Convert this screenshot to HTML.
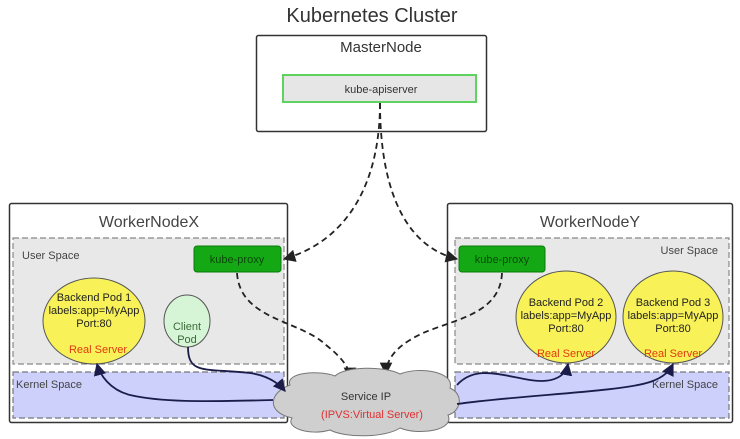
<!DOCTYPE html>
<html><head><meta charset="utf-8"><style>
html,body{margin:0;padding:0;background:#fff;width:740px;height:439px;overflow:hidden}
text{font-family:"Liberation Sans","DejaVu Sans",sans-serif}
</style></head><body>
<svg width="740" height="439" viewBox="0 0 740 439" xmlns="http://www.w3.org/2000/svg">
<defs>
<marker id="a" viewBox="0 0 10 10" refX="9" refY="5" markerWidth="7" markerHeight="7" orient="auto"><path d="M0,0 L10,5 L0,10 z" fill="#222"/></marker>
<marker id="b" viewBox="0 0 10 10" refX="9" refY="5" markerWidth="7" markerHeight="7" orient="auto"><path d="M0,0 L10,5 L0,10 z" fill="#1c1c4a"/></marker>
</defs>
<text x="372" y="22" font-size="20" text-anchor="middle" fill="#333">Kubernetes Cluster</text>
<rect x="256.5" y="35.5" width="230" height="96" fill="#fff" stroke="#333" stroke-width="1.5" rx="2"/>
<text x="381" y="52" font-size="15" text-anchor="middle" fill="#333">MasterNode</text>
<rect x="283" y="75" width="193" height="27" fill="#e6e6e6" stroke="#5fd35f" stroke-width="2"/>
<text x="381" y="93" font-size="11" text-anchor="middle" fill="#333">kube-apiserver</text>
<rect x="9.5" y="203.5" width="278" height="219" fill="#fff" stroke="#333" stroke-width="1.5" rx="2"/>
<text x="149" y="227" font-size="16" text-anchor="middle" fill="#444">WorkerNodeX</text>
<rect x="13" y="238" width="271" height="126" fill="#e8e8e8" stroke="#888" stroke-dasharray="6,3" stroke-width="1.2"/>
<text x="22" y="259" font-size="11" fill="#444">User Space</text>
<rect x="13" y="372" width="271" height="46" fill="#ccd0fb" stroke="#777" stroke-dasharray="6,3" stroke-width="1.2"/>
<text x="16" y="388" font-size="11" fill="#444">Kernel Space</text>
<rect x="194" y="246" width="87" height="26" rx="3" fill="#14a814" stroke="#0a7a0a"/>
<text x="237" y="263" font-size="11" text-anchor="middle" fill="#0a4a0a">kube-proxy</text>
<ellipse cx="94" cy="321" rx="51" ry="43" fill="#f8f258" stroke="#555"/>
<text x="94" y="301" font-size="11" text-anchor="middle" fill="#222">Backend Pod 1</text>
<text x="94" y="314" font-size="11" text-anchor="middle" fill="#222">labels:app=MyApp</text>
<text x="94" y="327" font-size="11" text-anchor="middle" fill="#222">Port:80</text>
<text x="98" y="353" font-size="11" text-anchor="middle" fill="#e03a10">Real Server</text>
<ellipse cx="187" cy="321" rx="23" ry="26" fill="#d6f5d6" stroke="#555"/>
<text x="187" y="330" font-size="11" text-anchor="middle" fill="#3a6a3a">Client</text>
<text x="187" y="343" font-size="11" text-anchor="middle" fill="#3a6a3a">Pod</text>
<rect x="447.5" y="203.5" width="285" height="219" fill="#fff" stroke="#333" stroke-width="1.5" rx="2"/>
<text x="590" y="227" font-size="16" text-anchor="middle" fill="#444">WorkerNodeY</text>
<rect x="455" y="238" width="274" height="126" fill="#e8e8e8" stroke="#888" stroke-dasharray="6,3" stroke-width="1.2"/>
<text x="718" y="254" font-size="11" text-anchor="end" fill="#444">User Space</text>
<rect x="455" y="372" width="274" height="46" fill="#ccd0fb" stroke="#777" stroke-dasharray="6,3" stroke-width="1.2"/>
<text x="718" y="388" font-size="11" text-anchor="end" fill="#444">Kernel Space</text>
<rect x="459" y="246" width="86" height="26" rx="3" fill="#14a814" stroke="#0a7a0a"/>
<text x="502" y="263" font-size="11" text-anchor="middle" fill="#0a4a0a">kube-proxy</text>
<ellipse cx="566" cy="317" rx="50" ry="46" fill="#f8f258" stroke="#555"/>
<text x="566" y="306" font-size="11" text-anchor="middle" fill="#222">Backend Pod 2</text>
<text x="566" y="319" font-size="11" text-anchor="middle" fill="#222">labels:app=MyApp</text>
<text x="566" y="332" font-size="11" text-anchor="middle" fill="#222">Port:80</text>
<text x="566" y="357" font-size="11" text-anchor="middle" fill="#e03a10">Real Server</text>
<ellipse cx="673" cy="317" rx="50" ry="46" fill="#f8f258" stroke="#555"/>
<text x="673" y="306" font-size="11" text-anchor="middle" fill="#222">Backend Pod 3</text>
<text x="673" y="319" font-size="11" text-anchor="middle" fill="#222">labels:app=MyApp</text>
<text x="673" y="332" font-size="11" text-anchor="middle" fill="#222">Port:80</text>
<text x="673" y="357" font-size="11" text-anchor="middle" fill="#e03a10">Real Server</text>
<g fill="none" stroke="#222" stroke-width="1.8" stroke-dasharray="6,4">
<path d="M380,103 C380,180 350,240 284,259" marker-end="url(#a)"/>
<path d="M380,103 C380,180 400,245 457,259" marker-end="url(#a)"/>
<path d="M237,273 C240,320 300,320 326,345 C345,360 350,370 350,379" marker-end="url(#a)"/>
<path d="M502,273 C500,320 440,320 410,340 C390,352 386,365 386,374" marker-end="url(#a)"/>
</g>
<path d="M290,385 C285,372 320,370 335,376 C345,366 385,366 400,374 C420,366 455,372 450,388 C465,395 460,412 448,415 C455,430 420,436 400,428 C385,438 345,438 330,430 C310,436 285,428 292,418 C265,412 270,392 290,385 Z" fill="#cfcfcf" stroke="#777"/>
<text x="366" y="400" font-size="11" text-anchor="middle" fill="#333">Service IP</text>
<text x="372" y="418" font-size="11" text-anchor="middle" fill="#e03030">(IPVS:Virtual Server)</text>
<g fill="none" stroke="#1c1c4a" stroke-width="1.8">
<path d="M188,347 C188,375 205,368 250,373 C270,376 280,385 285,391" marker-end="url(#b)"/>
<path d="M273,400 C200,402 160,402 130,395 C110,390 100,375 97,364" marker-end="url(#b)"/>
<path d="M457,385 C475,365 500,375 530,380 C555,384 566,375 568,364" marker-end="url(#b)"/>
<path d="M457,404 C520,395 620,392 650,382 C665,377 670,370 673,364" marker-end="url(#b)"/>
</g>
</svg>
</body></html>
